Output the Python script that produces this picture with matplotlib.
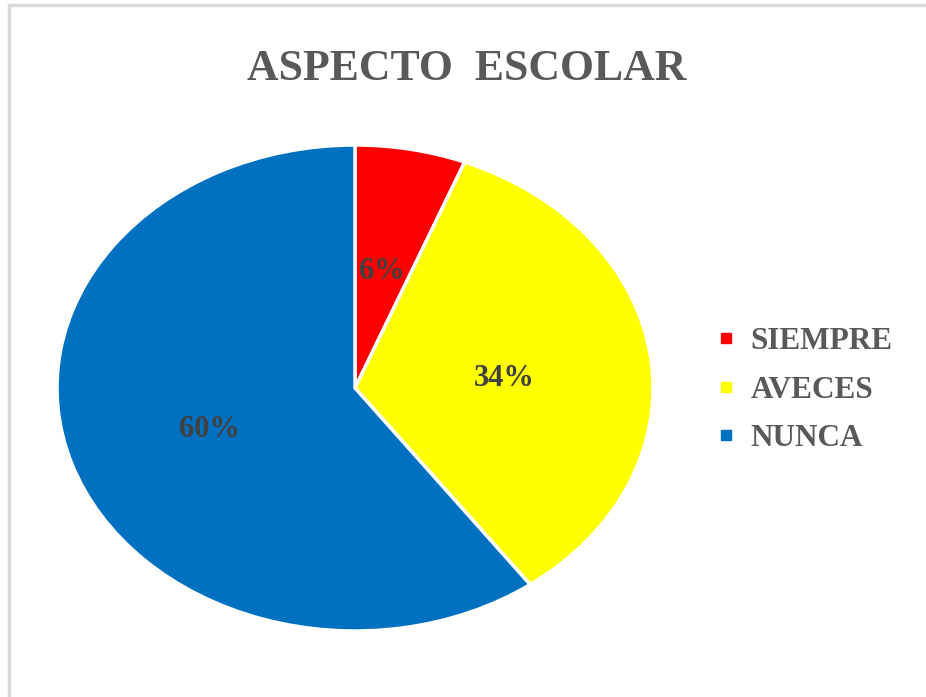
import matplotlib
matplotlib.use('Agg')
import matplotlib.pyplot as plt
from matplotlib.lines import Line2D
from matplotlib.patches import Rectangle

# data
categories = ['SIEMPRE', 'AVECES', 'NUNCA']
shares = [6, 34, 60]
colors = ['#FF0000', '#FFFF00', '#0070C0']
title = 'ASPECTO  ESCOLAR'

plt.rcParams['font.family'] = ['Liberation Serif', 'DejaVu Serif']
plt.rcParams['font.weight'] = 'bold'

fig = plt.figure(figsize=(9.26, 6.97), dpi=100)

# light gray chart border (right/bottom edges fall off the picture)
fig.patches.append(Rectangle((9/926, -0.1), 1.2, 1 - 5/697 + 0.1, transform=fig.transFigure,
                             fill=False, edgecolor='#D9D9D9', linewidth=2.5))

# axes sized so the pie becomes the stretched ellipse of the original
ax = fig.add_axes([57/926, 66/697, 596/926, 486/697])
wedges, texts, autotexts = ax.pie(shares, colors=colors, startangle=90, counterclock=False,
                                  autopct='%1.0f%%', pctdistance=0.5,
                                  wedgeprops=dict(edgecolor='white', linewidth=2.5),
                                  textprops=dict(color='#404040', fontsize=22, fontweight='bold'))
ax.set_aspect('auto')
ax.set_xlim(-1, 1)
ax.set_ylim(-1, 1)

# nudge labels to where the reference puts them
autotexts[0].set_position((0.09, 0.48))
autotexts[1].set_position((0.50, 0.04))
autotexts[2].set_position((-0.49, -0.17))

fig.text(467/926, 1 - 69/697, title, ha='center', va='center', fontsize=31.5,
         fontweight='bold', color='#595959')

handles = [Line2D([], [], marker='s', linestyle='none', markersize=7,
                  markerfacecolor=c, markeredgecolor=c) for c in colors]
leg = fig.legend(handles, categories, loc='center left', bbox_to_anchor=(688/926, 1 - 390/697),
                 frameon=False, handlelength=0.6, handletextpad=0.5, labelspacing=0.62,
                 prop=dict(family='Liberation Serif', weight='bold', size=22.5))
for t in leg.get_texts():
    t.set_color('#595959')

fig.savefig('out.png', dpi=100)
